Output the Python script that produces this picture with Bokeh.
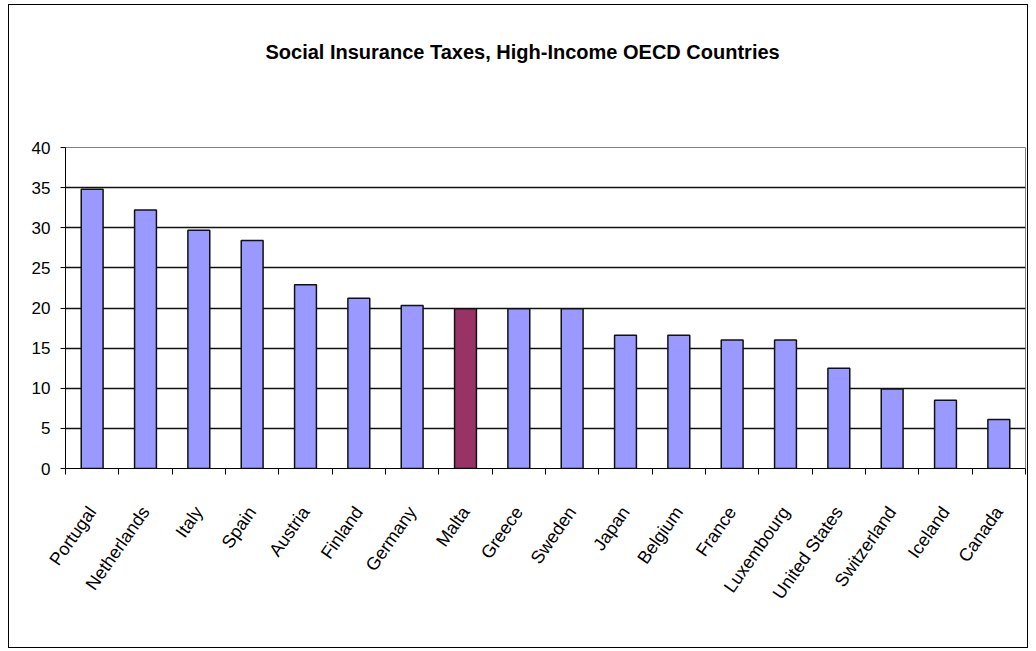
from bokeh.plotting import figure
from bokeh.models import Range1d, FixedTicker, ColumnDataSource, Title
from bokeh.embed import file_html
from bokeh.resources import INLINE

countries = ["Portugal", "Netherlands", "Italy", "Spain", "Austria", "Finland",
             "Germany", "Malta", "Greece", "Sweden", "Japan", "Belgium", "France",
             "Luxembourg", "United States", "Switzerland", "Iceland", "Canada"]
values = [34.8, 32.2, 29.7, 28.4, 22.9, 21.2, 20.3, 19.9, 19.9, 19.9,
          16.6, 16.6, 16.0, 16.0, 12.5, 9.9, 8.5, 6.1]
highlight = "Malta"
y_ticks = [0, 5, 10, 15, 20, 25, 30, 35, 40]

n = len(countries)
xs = [i + 0.5 for i in range(n)]
colors = ["#993366" if c == highlight else "#9999FF" for c in countries]
src = ColumnDataSource(dict(x=xs, top=values, color=colors, name=countries))

FONT = "Liberation Sans"

p = figure(width=1020, height=644, output_backend="svg", toolbar_location=None,
           x_range=Range1d(0, n), y_range=Range1d(0, 40),
           min_border_left=56, min_border_right=4, min_border_top=142,
           min_border_bottom=181,
           title="Social Insurance Taxes, High-Income OECD Countries")
p.styles = {"border": "1px solid #000000", "margin": "4px 0px 0px 8px"}
p.outline_line_color = "#808080"
p.background_fill_color = "white"
p.border_fill_color = "white"

p.title.align = "left"
p.title.offset = 200
p.title.vertical_align = "top"
p.title.standoff = 10
p.title.text_font = FONT
p.title.text_font_style = "bold"
p.title.text_font_size = "20px"
p.title.text_color = "black"

# empty spacer between the title and the plot area
p.add_layout(Title(text=" ", text_font_size="1px", standoff=75), "above")

p.vbar(x="x", top="top", width=0.41, bottom=0, fill_color="color",
       line_color="#111111", line_width=1.5, source=src)

# y axis
p.yaxis.ticker = FixedTicker(ticks=y_ticks)
p.yaxis.axis_line_color = "black"
p.yaxis.major_tick_out = 5
p.yaxis.major_tick_in = 0
p.yaxis.minor_tick_line_color = None
p.yaxis.major_label_text_font = FONT
p.yaxis.major_label_text_font_size = "17px"
p.yaxis.major_label_text_color = "black"
p.yaxis.major_label_standoff = 10

# x axis: labels at centres, ticks at boundaries
p.xaxis.ticker = FixedTicker(ticks=xs, minor_ticks=list(range(n + 1)))
p.xaxis.major_label_overrides = {x: c for x, c in zip(xs, countries)}
p.xaxis.major_tick_line_color = None
p.xaxis.major_tick_out = 0
p.xaxis.major_tick_in = 0
p.xaxis.minor_tick_out = 6
p.xaxis.minor_tick_in = 0
p.xaxis.minor_tick_line_color = "black"
p.xaxis.axis_line_color = "black"
p.xaxis.major_label_orientation = 0.96
p.xaxis.major_label_text_font = FONT
p.xaxis.major_label_text_font_size = "18px"
p.xaxis.major_label_text_color = "black"
p.xaxis.major_label_standoff = 34

p.xgrid.grid_line_color = None
p.ygrid.ticker = FixedTicker(ticks=y_ticks[1:-1])
p.ygrid.grid_line_color = "#111111"
p.ygrid.grid_line_width = 1.5

open("out.html", "w").write(file_html(p, INLINE))
